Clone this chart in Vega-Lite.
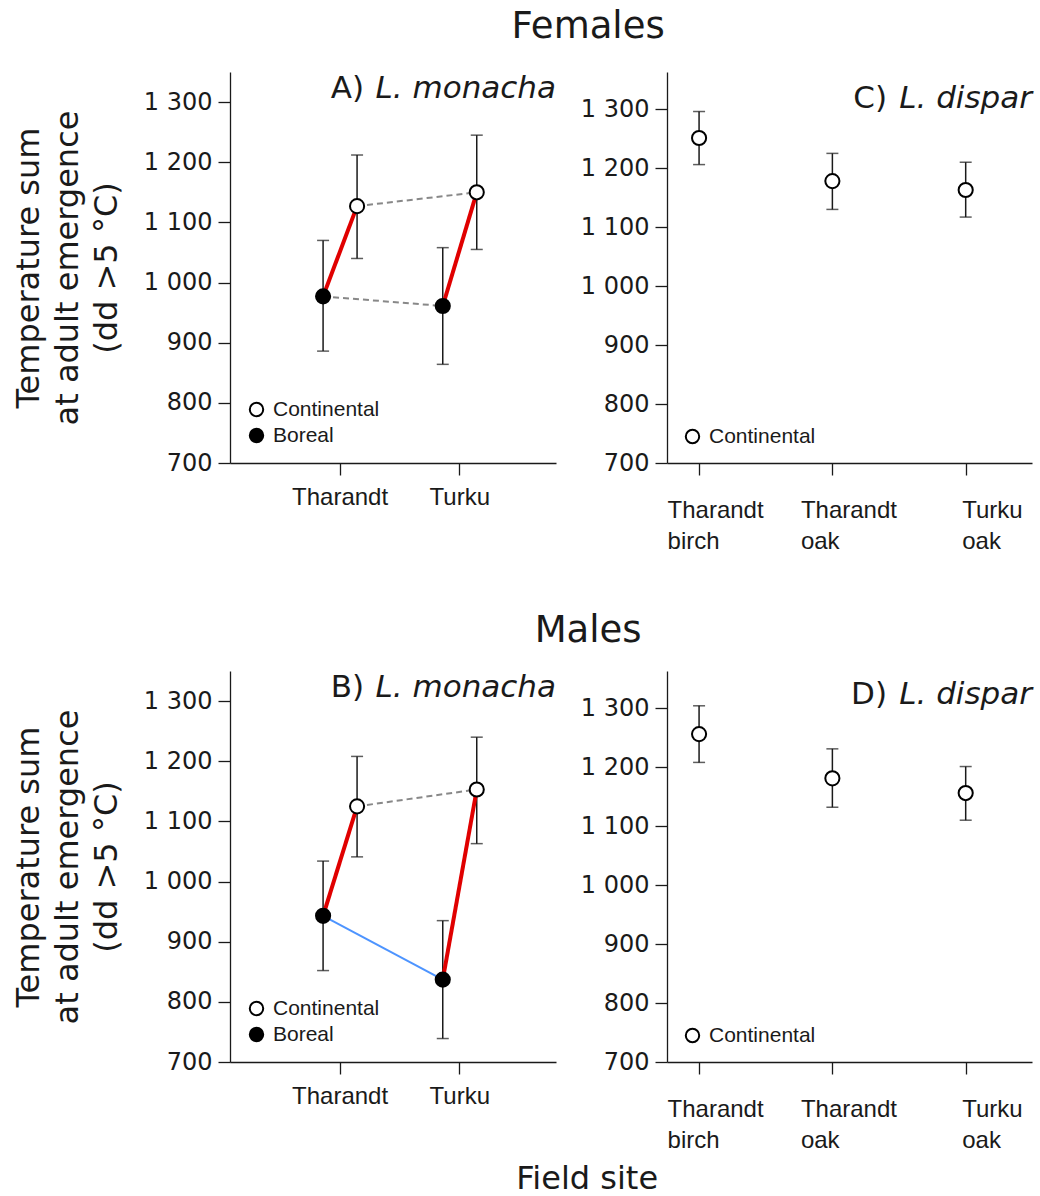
{
  "$schema": "https://vega.github.io/schema/vega-lite/v6.json",
  "background": "white",
  "padding": {"left": 12, "top": 8, "right": 5, "bottom": 5},
  "datasets": {
    "monacha": [
      {"sex": "Females", "site": "Tharandt", "origin": "Continental", "mean": 1127, "lo": 1040, "hi": 1212},
      {"sex": "Females", "site": "Tharandt", "origin": "Boreal", "mean": 977, "lo": 886, "hi": 1070},
      {"sex": "Females", "site": "Turku", "origin": "Continental", "mean": 1150, "lo": 1055, "hi": 1245},
      {"sex": "Females", "site": "Turku", "origin": "Boreal", "mean": 961, "lo": 864, "hi": 1058},
      {"sex": "Males", "site": "Tharandt", "origin": "Continental", "mean": 1125, "lo": 1041, "hi": 1208},
      {"sex": "Males", "site": "Tharandt", "origin": "Boreal", "mean": 943, "lo": 852, "hi": 1034},
      {"sex": "Males", "site": "Turku", "origin": "Continental", "mean": 1153, "lo": 1063, "hi": 1240},
      {"sex": "Males", "site": "Turku", "origin": "Boreal", "mean": 837, "lo": 739, "hi": 935}
    ],
    "dispar": [
      {"sex": "Females", "site": "Tharandt birch", "origin": "Continental", "mean": 1251, "lo": 1206, "hi": 1296},
      {"sex": "Females", "site": "Tharandt oak", "origin": "Continental", "mean": 1178, "lo": 1130, "hi": 1225},
      {"sex": "Females", "site": "Turku oak", "origin": "Continental", "mean": 1163, "lo": 1117, "hi": 1210},
      {"sex": "Males", "site": "Tharandt birch", "origin": "Continental", "mean": 1256, "lo": 1208, "hi": 1304},
      {"sex": "Males", "site": "Tharandt oak", "origin": "Continental", "mean": 1181, "lo": 1132, "hi": 1231},
      {"sex": "Males", "site": "Turku oak", "origin": "Continental", "mean": 1156, "lo": 1110, "hi": 1201}
    ]
  },
  "title": {"text": "Field site", "orient": "bottom", "anchor": "middle", "dx": 65, "fontSize": 32, "offset": 12},
  "spacing": 59,
  "resolve": {"scale": {"fill": "independent", "x": "independent", "y": "independent"}, "legend": {"fill": "independent"}},
  "vconcat": [
    {
      "title": {"text": "Females", "anchor": "middle", "dx": 66, "fontSize": 37, "offset": -3, "baseline": "alphabetic"},
      "spacing": 24,
      "resolve": {"scale": {"fill": "independent", "x": "independent", "y": "independent"}, "legend": {"fill": "independent"}},
      "hconcat": [
        {
          "title": {"text": "A)", "anchor": "end", "dx": -192, "offset": -57, "baseline": "alphabetic", "fontSize": 31},
          "resolve": {"scale": {"fill": "independent", "x": "independent", "y": "independent"}, "legend": {"fill": "independent"}},
          "vconcat": [
            {
              "width": 326, "height": 391,
              "title": {"text": "L. monacha", "anchor": "end", "frame": "group", "offset": -57, "baseline": "alphabetic", "fontSize": 31, "fontStyle": "italic"},
              "data": {"name": "monacha"},
              "transform": [{"filter": "datum.sex === 'Females'"}],
              "encoding": {
                "x": {"field": "site", "type": "nominal", "sort": ["Tharandt", "Turku"], "title": null,
                      "scale": {"type": "band", "paddingInner": 0.432, "paddingOuter": 0.578, "align": 0.55},
                      "axis": {"labelPadding": 10}},
                "xOffset": {"field": "origin", "type": "nominal", "sort": ["Boreal", "Continental"], "scale": {"paddingInner": 0, "paddingOuter": 0}},
                "y": {"field": "mean", "type": "quantitative", "scale": {"domain": [700, 1350], "nice": false, "zero": false},
                      "axis": {"values": [700, 800, 900, 1000, 1100, 1200, 1300], "labelExpr": "replace(format(datum.value, ','), ',', ' ')",
                               "title": ["Temperature sum", "at adult emergence", "(dd >5 °C)"]}}
              },
              "layer": [
                {"mark": {"type": "rule", "color": "#1a1a1a", "strokeWidth": 1.5}, "encoding": {"y": {"field": "lo", "type": "quantitative"}, "y2": {"field": "hi"}}},
                {"mark": {"type": "tick", "color": "#1a1a1a", "thickness": 1.5, "size": 12}, "encoding": {"y": {"field": "lo", "type": "quantitative"}}},
                {"mark": {"type": "tick", "color": "#1a1a1a", "thickness": 1.5, "size": 12}, "encoding": {"y": {"field": "hi", "type": "quantitative"}}},
                {"mark": {"type": "line", "color": "#e00000", "strokeWidth": 4}, "encoding": {"detail": {"field": "site"}}},
                {"mark": {"type": "line", "color": "#888888", "strokeWidth": 2, "strokeDash": [6, 4]}, "encoding": {"detail": {"field": "origin"}}},
                {"mark": {"type": "circle", "stroke": "#000000", "strokeWidth": 2, "size": 200, "opacity": 1},
                 "encoding": {"fill": {"field": "origin", "type": "nominal", "scale": {"domain": ["Continental", "Boreal"], "range": ["white", "black"]},
                                       "legend": {"orient": "bottom-left", "offset": 16}}}}
              ]
            }
          ]
        },
        {
          "title": {"text": "C)", "anchor": "end", "dx": -145, "offset": -67, "baseline": "alphabetic", "fontSize": 31},
          "resolve": {"scale": {"fill": "independent", "x": "independent", "y": "independent"}, "legend": {"fill": "independent"}},
          "vconcat": [
            {
              "width": 365, "height": 391,
              "title": {"text": "L. dispar", "anchor": "end", "frame": "group", "offset": -67, "baseline": "alphabetic", "fontSize": 31, "fontStyle": "italic"},
              "data": {"name": "dispar"},
              "transform": [{"filter": "datum.sex === 'Females'"}],
              "encoding": {
                "x": {"field": "site", "type": "nominal", "sort": ["Tharandt birch", "Tharandt oak", "Turku oak"], "title": null,
                      "scale": {"type": "point", "padding": 0.369, "align": 0.326},
                      "axis": {"labelPadding": 23, "labelAlign": "left", "labelExpr": "split(datum.value, ' ')", "labelLineHeight": 31,
                               "labelOffset": {"condition": {"test": "datum.value === 'Turku oak'", "value": -4}, "value": -32}}},
                "y": {"field": "mean", "type": "quantitative", "scale": {"domain": [700, 1363], "nice": false, "zero": false},
                      "axis": {"values": [700, 800, 900, 1000, 1100, 1200, 1300], "labelExpr": "replace(format(datum.value, ','), ',', ' ')", "title": null}}
              },
              "layer": [
                {"mark": {"type": "rule", "color": "#1a1a1a", "strokeWidth": 1.5}, "encoding": {"y": {"field": "lo", "type": "quantitative"}, "y2": {"field": "hi"}}},
                {"mark": {"type": "tick", "color": "#1a1a1a", "thickness": 1.5, "size": 12}, "encoding": {"y": {"field": "lo", "type": "quantitative"}}},
                {"mark": {"type": "tick", "color": "#1a1a1a", "thickness": 1.5, "size": 12}, "encoding": {"y": {"field": "hi", "type": "quantitative"}}},
                {"mark": {"type": "circle", "stroke": "#000000", "strokeWidth": 2, "size": 200, "opacity": 1},
                 "encoding": {"fill": {"field": "origin", "type": "nominal", "scale": {"domain": ["Continental"], "range": ["white"]},
                                       "legend": {"orient": "bottom-left", "offset": 15}}}}
              ]
            }
          ]
        }
      ]
    },
    {
      "title": {"text": "Males", "anchor": "middle", "dx": 66, "fontSize": 37, "offset": -8, "baseline": "alphabetic"},
      "spacing": 24,
      "resolve": {"scale": {"fill": "independent", "x": "independent", "y": "independent"}, "legend": {"fill": "independent"}},
      "hconcat": [
        {
          "title": {"text": "B)", "anchor": "end", "dx": -192, "offset": -57, "baseline": "alphabetic", "fontSize": 31},
          "resolve": {"scale": {"fill": "independent", "x": "independent", "y": "independent"}, "legend": {"fill": "independent"}},
          "vconcat": [
            {
              "width": 326, "height": 391,
              "title": {"text": "L. monacha", "anchor": "end", "frame": "group", "offset": -57, "baseline": "alphabetic", "fontSize": 31, "fontStyle": "italic"},
              "data": {"name": "monacha"},
              "transform": [{"filter": "datum.sex === 'Males'"}],
              "encoding": {
                "x": {"field": "site", "type": "nominal", "sort": ["Tharandt", "Turku"], "title": null,
                      "scale": {"type": "band", "paddingInner": 0.432, "paddingOuter": 0.578, "align": 0.55},
                      "axis": {"labelPadding": 10}},
                "xOffset": {"field": "origin", "type": "nominal", "sort": ["Boreal", "Continental"], "scale": {"paddingInner": 0, "paddingOuter": 0}},
                "y": {"field": "mean", "type": "quantitative", "scale": {"domain": [700, 1350], "nice": false, "zero": false},
                      "axis": {"values": [700, 800, 900, 1000, 1100, 1200, 1300], "labelExpr": "replace(format(datum.value, ','), ',', ' ')",
                               "title": ["Temperature sum", "at adult emergence", "(dd >5 °C)"]}}
              },
              "layer": [
                {"mark": {"type": "rule", "color": "#1a1a1a", "strokeWidth": 1.5}, "encoding": {"y": {"field": "lo", "type": "quantitative"}, "y2": {"field": "hi"}}},
                {"mark": {"type": "tick", "color": "#1a1a1a", "thickness": 1.5, "size": 12}, "encoding": {"y": {"field": "lo", "type": "quantitative"}}},
                {"mark": {"type": "tick", "color": "#1a1a1a", "thickness": 1.5, "size": 12}, "encoding": {"y": {"field": "hi", "type": "quantitative"}}},
                {"mark": {"type": "line", "color": "#e00000", "strokeWidth": 4}, "encoding": {"detail": {"field": "site"}}},
                {"transform": [{"filter": "datum.origin === 'Continental'"}],
                 "mark": {"type": "line", "color": "#888888", "strokeWidth": 2, "strokeDash": [6, 4]}, "encoding": {"detail": {"field": "origin"}}},
                {"transform": [{"filter": "datum.origin === 'Boreal'"}],
                 "mark": {"type": "line", "color": "#4d94ff", "strokeWidth": 2}, "encoding": {"detail": {"field": "origin"}}},
                {"mark": {"type": "circle", "stroke": "#000000", "strokeWidth": 2, "size": 200, "opacity": 1},
                 "encoding": {"fill": {"field": "origin", "type": "nominal", "scale": {"domain": ["Continental", "Boreal"], "range": ["white", "black"]},
                                       "legend": {"orient": "bottom-left", "offset": 16}}}}
              ]
            }
          ]
        },
        {
          "title": {"text": "D)", "anchor": "end", "dx": -145, "offset": -64, "baseline": "alphabetic", "fontSize": 31},
          "resolve": {"scale": {"fill": "independent", "x": "independent", "y": "independent"}, "legend": {"fill": "independent"}},
          "vconcat": [
            {
              "width": 365, "height": 391,
              "title": {"text": "L. dispar", "anchor": "end", "frame": "group", "offset": -64, "baseline": "alphabetic", "fontSize": 31, "fontStyle": "italic"},
              "data": {"name": "dispar"},
              "transform": [{"filter": "datum.sex === 'Males'"}],
              "encoding": {
                "x": {"field": "site", "type": "nominal", "sort": ["Tharandt birch", "Tharandt oak", "Turku oak"], "title": null,
                      "scale": {"type": "point", "padding": 0.369, "align": 0.326},
                      "axis": {"labelPadding": 23, "labelAlign": "left", "labelExpr": "split(datum.value, ' ')", "labelLineHeight": 31,
                               "labelOffset": {"condition": {"test": "datum.value === 'Turku oak'", "value": -4}, "value": -32}}},
                "y": {"field": "mean", "type": "quantitative", "scale": {"domain": [700, 1363], "nice": false, "zero": false},
                      "axis": {"values": [700, 800, 900, 1000, 1100, 1200, 1300], "labelExpr": "replace(format(datum.value, ','), ',', ' ')", "title": null}}
              },
              "layer": [
                {"mark": {"type": "rule", "color": "#1a1a1a", "strokeWidth": 1.5}, "encoding": {"y": {"field": "lo", "type": "quantitative"}, "y2": {"field": "hi"}}},
                {"mark": {"type": "tick", "color": "#1a1a1a", "thickness": 1.5, "size": 12}, "encoding": {"y": {"field": "lo", "type": "quantitative"}}},
                {"mark": {"type": "tick", "color": "#1a1a1a", "thickness": 1.5, "size": 12}, "encoding": {"y": {"field": "hi", "type": "quantitative"}}},
                {"mark": {"type": "circle", "stroke": "#000000", "strokeWidth": 2, "size": 200, "opacity": 1},
                 "encoding": {"fill": {"field": "origin", "type": "nominal", "scale": {"domain": ["Continental"], "range": ["white"]},
                                       "legend": {"orient": "bottom-left", "offset": 15}}}}
              ]
            }
          ]
        }
      ]
    }
  ],
  "config": {
    "view": {"stroke": null},
    "font": "DejaVu Sans",
    "title": {"font": "DejaVu Sans", "fontWeight": "normal", "color": "#1a1a1a"},
    "axis": {"domainColor": "#1a1a1a", "tickColor": "#1a1a1a", "labelColor": "#1a1a1a", "domainWidth": 1.3, "tickWidth": 1.3, "grid": false,
             "titleFont": "DejaVu Sans", "titleFontWeight": "normal", "titleColor": "#1a1a1a"},
    "axisY": {"labelFont": "DejaVu Sans", "labelFontSize": 24, "tickSize": 12, "labelPadding": 6, "titleFontSize": 32, "titleLineHeight": 39, "titlePadding": 20},
    "axisX": {"labelFont": "Liberation Sans", "labelFontSize": 24, "labelAngle": 0, "tickSize": 12},
    "legend": {"title": null, "padding": 0, "symbolType": "circle", "symbolStrokeColor": "#000000", "symbolStrokeWidth": 2, "symbolSize": 180,
               "labelFont": "Liberation Sans", "labelFontSize": 21, "labelColor": "#1a1a1a", "labelOffset": 6, "rowPadding": 3}
  }
}
